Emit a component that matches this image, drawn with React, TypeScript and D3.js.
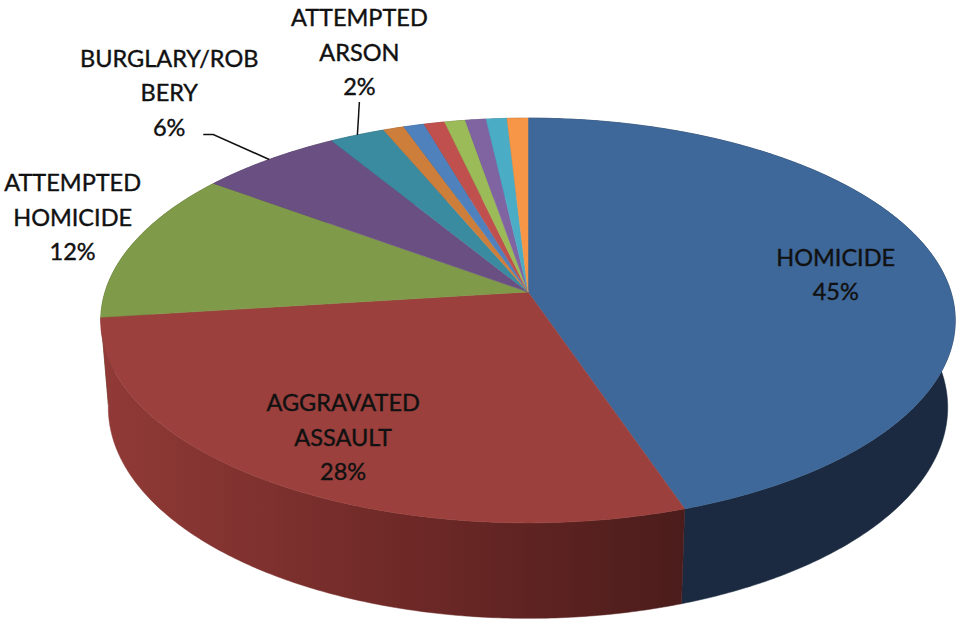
import * as React from "react";
import * as d3 from "d3";

// data (share of incidents, %)
const categories = [
  "HOMICIDE", "AGGRAVATED ASSAULT", "ATTEMPTED HOMICIDE", "BURGLARY/ROBBERY", "ATTEMPTED ARSON",
  "OTHER 1", "OTHER 2", "OTHER 3", "OTHER 4", "OTHER 5", "OTHER 6", "OTHER 7",
];
const values = [44.8, 28.2, 12.1, 6.2, 2.4, 0.9, 0.9, 0.9, 0.9, 0.9, 0.9, 0.9];
// how Excel wrapped the label text (empty = no label)
const labelLines: string[][] = [
  ["HOMICIDE"], ["AGGRAVATED", "ASSAULT"], ["ATTEMPTED", "HOMICIDE"], ["BURGLARY/ROB", "BERY"],
  ["ATTEMPTED", "ARSON"], [], [], [], [], [], [], [],
];

const topColors = [
  "#3e6899", "#9b403d", "#7f9a48", "#6a5082", "#3a8aa0",
  "#cd7e3a", "#4f81bd", "#c0504d", "#9bbb59", "#8064a2", "#4bacc6", "#f79646",
];

const W = 956;
const H = 624;

// perspective set-up for the tilted disc
const cam = { cx: 528, cy: 292, f: 2652, dist: 6.27, sin: 0.469, cos: 0.883, thick: 0.235 };

function project(r: number, a: number, z: number): [number, number] {
  const X = r * Math.sin(a);
  const Y = r * Math.cos(a);
  const depth = cam.dist + Y * cam.cos - z * cam.sin;
  const up = Y * cam.sin + z * cam.cos;
  return [cam.cx + cam.f * X / depth, cam.cy - cam.f * up / depth];
}

// label layout: inside labels sit at 75% radius, outside ones are offset from the rim
type LabelPos = { inside: boolean; dx: number; dy: number; leader?: [number, number][] };
const labelPos: (LabelPos | null)[] = [
  { inside: true, dx: 0, dy: 6 },
  { inside: true, dx: 0, dy: 6 },
  { inside: false, dx: -60, dy: -27 },
  { inside: false, dx: -100, dy: -67, leader: [[-56, -25], [-66, -25]] },
  { inside: false, dx: 2, dy: -83, leader: [[2, -33]] },
  null, null, null, null, null, null, null,
];

const lineH = 34.5;

export default function App() {
  const arcs = d3.pie<number>().sort(null).value((d) => d)(values);
  const total = d3.sum(values);
  const line = d3.line();

  const arcPts = (a0: number, a1: number, z: number) => {
    const n = Math.max(2, Math.ceil((a1 - a0) / 0.01));
    return d3.range(n + 1).map((i) => project(1, a0 + (a1 - a0) * i / n, z));
  };

  // outer walls, drawn back to front
  const walls = arcs
    .map((a, i) => {
      const topPts = arcPts(a.startAngle, a.endAngle, 0);
      const botPts = arcPts(a.startAngle, a.endAngle, -cam.thick).reverse();
      const mid = (a.startAngle + a.endAngle) / 2;
      return { i, d: line([...topPts, ...botPts])! + "Z", depth: Math.cos(mid) };
    })
    .sort((p, q) => q.depth - p.depth);

  const wallFill = (i: number) => {
    if (i === 1) return "url(#redWall)";
    if (i === 0) return "#1b2a40";
    return d3.color(topColors[i])!.darker(1.4).formatHex();
  };

  const tops = arcs.map((a, i) => {
    const pts = [project(0, 0, 0), ...arcPts(a.startAngle, a.endAngle, 0)];
    return { i, d: line(pts)! + "Z" };
  });

  const labels = arcs.map((a, i) => {
    const lp = labelPos[i];
    if (!lp || labelLines[i].length === 0) return null;
    const mid = (a.startAngle + a.endAngle) / 2;
    const anchor = lp.inside ? project(0.75, mid, 0) : project(1, mid, 0);
    const bx = anchor[0] + lp.dx;
    const by = anchor[1] + lp.dy;
    const lines = [...labelLines[i], `${Math.round((values[i] / total) * 100)}%`];
    const leader = lp.leader
      ? [anchor, ...lp.leader.map(([x, y]) => [anchor[0] + x, anchor[1] + y] as [number, number])]
      : null;
    return { i, bx, by, lines, leader };
  });

  return (
    <svg width={W} height={H} style={{ position: "absolute", left: 0, top: 0, background: "#fff" }}>
      <defs>
        <linearGradient id="redWall" gradientUnits="userSpaceOnUse" x1={100} y1={0} x2={690} y2={0}>
          <stop offset="0" stopColor="#913a37" />
          <stop offset="0.55" stopColor="#6c2826" />
          <stop offset="1" stopColor="#4a1c1b" />
        </linearGradient>
      </defs>
      <g>
        {walls.map((w) => (
          <path key={"w" + w.i} d={w.d} fill={wallFill(w.i)} stroke={wallFill(w.i)} strokeWidth={0.5} />
        ))}
      </g>
      <g>
        {tops.map((t) => (
          <path key={"t" + t.i} d={t.d} fill={topColors[t.i]} stroke={topColors[t.i]} strokeWidth={0.5} />
        ))}
      </g>
      <g fontFamily="Lato, 'Open Sans', sans-serif" fontSize={23.5} fill="#111" textAnchor="middle">
        {labels.map((l) =>
          l ? (
            <g key={"l" + l.i}>
              {l.leader && (
                <path d={line(l.leader)!} fill="none" stroke="#111" strokeWidth={1.5} />
              )}
              {l.lines.map((s, k) => (
                <text
                  key={k}
                  x={l.bx}
                  y={l.by + (k - (l.lines.length - 1) / 2) * lineH}
                  dominantBaseline="central"
                  stroke="#111"
                  strokeWidth={0.4}
                >
                  {s}
                </text>
              ))}
            </g>
          ) : null
        )}
      </g>
    </svg>
  );
}
